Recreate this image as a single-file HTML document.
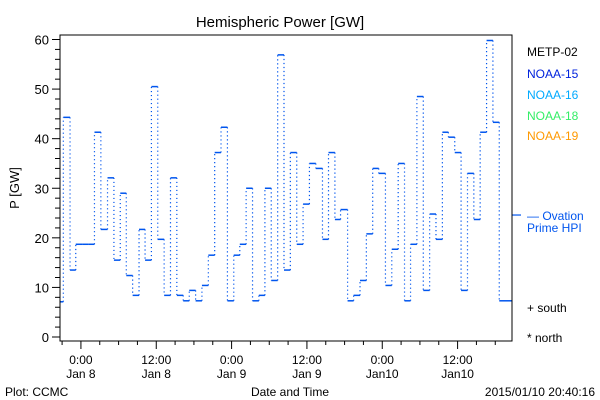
<!DOCTYPE html>
<html><head><meta charset="utf-8"><style>
body{margin:0;background:#fff}
svg{display:block;font-family:"Liberation Sans",sans-serif}
</style></head><body>
<svg id="c" width="600" height="400" viewBox="0 0 600 400">
<rect width="600" height="400" fill="#fff"/>
<text x="280" y="27" font-size="15" text-anchor="middle">Hemispheric Power [GW]</text>
<text transform="translate(19,188) rotate(-90)" font-size="13" text-anchor="middle">P [GW]</text>
<text x="290" y="396" font-size="12" text-anchor="middle">Date and Time</text>
<text x="5" y="396" font-size="12">Plot: CCMC</text>
<text x="595" y="396" font-size="12" text-anchor="end">2015/01/10 20:40:16</text>
<g font-size="12">
<text x="527" y="56" fill="#000">METP-02</text>
<text x="527" y="78" fill="#0022dd">NOAA-15</text>
<text x="527" y="99" fill="#00aaff">NOAA-16</text>
<text x="527" y="120" fill="#33ee66">NOAA-18</text>
<text x="527" y="140" fill="#ff9900">NOAA-19</text>
<text x="527" y="220" fill="#0055ee">— Ovation</text>
<text x="527" y="232" fill="#0055ee">Prime HPI</text>
<text x="527" y="312" fill="#000">+ south</text>
<text x="527" y="342" fill="#000">* north</text>
</g>
<g id="axes"></g>
<g id="series"></g>
<rect x="60" y="35" width="452" height="306" fill="none" stroke="#000" stroke-width="1"/>
</svg>
<script>
const yTicks=[0,10,20,30,40,50,60];
const xTickHours=[3.333,15.333,27.333,39.333,51.333,63.333];
const xTickTime=["0:00","12:00","0:00","12:00","0:00","12:00"];
const xTickDate=["Jan 8","Jan 8","Jan 9","Jan 9","Jan10","Jan10"];
const segStart=[0,0.53,1.6,2.51,3.52,4.48,5.49,6.51,7.57,8.59,9.6,10.56,11.57,12.59,13.55,14.56,15.57,16.59,17.6,18.61,19.63,20.59,21.6,22.61,23.63,24.64,25.65,26.67,27.68,28.64,29.65,30.67,31.68,32.64,33.65,34.67,35.68,36.69,37.71,38.72,39.73,40.75,41.81,42.77,43.79,44.69,45.81,46.77,47.79,48.8,49.81,50.77,51.84,52.85,53.87,54.88,55.84,56.85,57.87,58.88,59.89,60.91,61.87,62.88,63.89,64.91,65.92,66.93,67.95,68.96,69.97];
const power=[7.1,44.3,13.5,18.7,18.7,18.7,41.3,21.7,32.1,15.5,29,12.4,8.4,21.7,15.5,50.5,19.7,8.4,32.1,8.4,7.3,9.4,7.3,10.4,16.5,37.2,42.3,7.3,16.5,18.7,30,7.3,8.4,30,11.4,56.9,13.5,37.2,18.7,26.8,35,34,19.7,37.2,23.7,25.7,7.3,8.4,11.4,20.8,34,33,10.4,17.7,35,7.3,18.7,48.5,9.4,24.8,19.7,41.3,40.3,37.2,9.4,33,23.7,41.3,59.8,43.3,7.3];
const hpi=[24.6];
const endHour=72;
const X=h=>60+h*452/endHour;
const Y=v=>337-v*(297.5/60);
const NS="http://www.w3.org/2000/svg";
function mk(tag,at,parent){const e=document.createElementNS(NS,tag);for(const k in at)e.setAttribute(k,at[k]);parent.appendChild(e);return e;}
const ax=document.getElementById('axes'), sr=document.getElementById('series');
for(let v=0;v<=60;v+=2){
  const major=v%10===0;
  const t=mk('line',{x1:major?52:55,x2:60,y1:Y(v),y2:Y(v),stroke:'#000','stroke-width':1},ax);
  
  
}
yTicks.forEach(v=>{
  const t=mk('text',{x:49,y:Y(v)+5,'font-size':13,'text-anchor':'end'},ax);t.textContent=v;
  
  
});
for(let h=0.333;h<=endHour;h+=3){
  const major=xTickHours.some(m=>Math.abs(m-h)<0.01);
  const t=mk('line',{x1:X(h),x2:X(h),y1:341,y2:major?349:345,stroke:'#000','stroke-width':1},ax);
  
  
}
xTickHours.forEach((h,i)=>{
  const a=mk('text',{x:X(h),y:364,'font-size':12,'text-anchor':'middle'},ax);a.textContent=xTickTime[i];
  
  
  const b=mk('text',{x:X(h),y:378,'font-size':12,'text-anchor':'middle'},ax);b.textContent=xTickDate[i];
  
  
});
const col='#0055ee';
power.forEach((v,i)=>{
  const x1=X(segStart[i]), x2=X(i+1<segStart.length?segStart[i+1]:endHour);
  const s=mk('line',{x1:x1,x2:x2,y1:Y(v),y2:Y(v),stroke:col,'stroke-width':1.5},sr);
  
  
  if(i+1<power.length){
    const d=mk('line',{x1:x2,x2:x2,y1:Y(v),y2:Y(power[i+1]),stroke:col,'stroke-width':1.2,'stroke-dasharray':'1.2,2.8'},sr);
    
    
  }
});
const h=mk('line',{x1:512,x2:521,y1:Y(hpi[0]),y2:Y(hpi[0]),stroke:col,'stroke-width':1.2},sr);


</script>
</body></html>
